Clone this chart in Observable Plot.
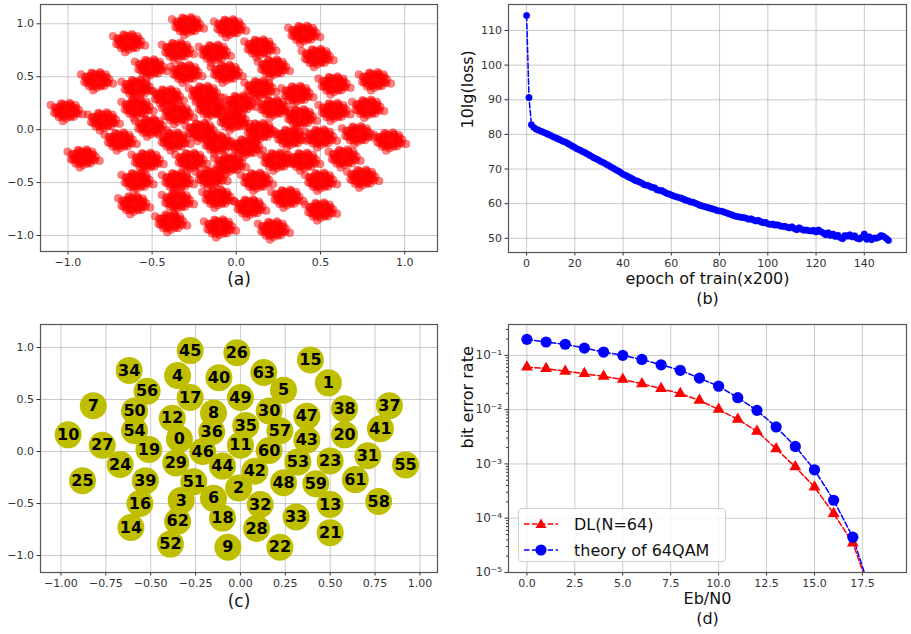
<!DOCTYPE html>
<html><head><meta charset="utf-8">
<script src="https://cdn.jsdelivr.net/npm/d3@7"></script>
<script src="https://cdn.jsdelivr.net/npm/@observablehq/plot@0.6"></script>
<style>
body{margin:0;background:#fff;}
#fig{position:relative;width:911px;height:634px;overflow:hidden;font-family:"DejaVu Sans",sans-serif;background:#fff;}
#fig > svg{position:absolute;}
#fig .legend{position:absolute;left:518px;top:508px;width:208px;height:54px;border:1px solid #d0d0d0;border-radius:4px;background:rgba(255,255,255,0.8);box-sizing:border-box;}
#fig .legend .row{position:absolute;left:5px;height:20px;display:flex;align-items:center;}
#fig .legend .row svg{position:static;display:block;flex:none;}
#fig .legend .row span{margin-left:14px;font-size:16px;color:#111;white-space:nowrap;}
</style></head><body><div id="fig"></div>
<script>
// ---------- Panel (a): received-signal cluster centres ----------
const clusterX = [-0.29,-0.04,0.40,-0.64,-0.35,-0.13,0.14,0.48,-0.51,-0.30,-0.06,0.22,-0.83,-0.59,-0.41,-0.19,0.14,0.36,0.58,0.82,-1.01,-0.79,-0.59,-0.35,-0.15,0.02,0.22,0.38,0.58,0.78,-0.51,-0.21,-0.02,0.14,0.32,0.50,0.72,0.91,-0.69,-0.37,-0.11,0.06,-0.91,-0.53,-0.27,-0.04,0.24,0.40,0.64,-0.59,-0.35,-0.15,0.12,0.50,0.75,-0.61,-0.35,-0.11,0.08,0.30,0.50,-0.39,-0.10,0.22];
const clusterY = [0.99,0.97,0.91,0.83,0.75,0.73,0.78,0.69,0.59,0.54,0.54,0.59,0.47,0.40,0.31,0.34,0.39,0.34,0.43,0.47,0.18,0.09,0.21,0.15,0.21,0.25,0.21,0.12,0.18,0.21,0.03,-0.01,0.09,-0.01,-0.07,-0.07,-0.04,-0.10,-0.10,-0.10,-0.13,-0.16,-0.26,-0.29,-0.29,-0.32,-0.29,-0.29,-0.26,-0.48,-0.48,-0.45,-0.48,-0.48,-0.45,-0.70,-0.67,-0.64,-0.73,-0.64,-0.76,-0.87,-0.92,-0.94];
// spread of received samples around each centre (read from blob extent)
const blobDX = [0,0.03,0.015,-0.015,-0.03,-0.015,0.015,0.052,0.028,-0.010,-0.042,-0.055,-0.042,-0.010,0.028,0.052,0.075,0.055,0.02,-0.03,-0.068,-0.072,-0.045,0.0,0.045,0.07,0.098,-0.092,-0.02,0.045,0.032,0,-0.032,-0.045,-0.032,0,0.032,0.060,0.025,-0.025,-0.060,-0.060,-0.025,0.025,0.060];
const blobDY = [0,0,0.026,0.026,0,-0.026,-0.026,0.019,0.048,0.054,0.035,0,-0.035,-0.054,-0.048,-0.019,0.005,0.05,0.072,0.068,0.03,-0.02,-0.06,-0.075,-0.058,-0.03,-0.035,0.052,-0.098,0,0.032,0.045,0.032,0,-0.032,-0.045,-0.032,0.025,0.060,0.060,0.025,-0.025,-0.060,-0.060,-0.025];

// ---------- Panel (b): training loss ----------
const lossDB = [114.3,90.6,82.8,82.0,81.5,81.2,80.9,80.6,80.3,80.0,79.7,79.3,79.0,78.7,78.4,78.0,77.8,77.4,77.0,76.6,76.2,75.8,75.5,75.1,74.8,74.4,74.0,73.6,73.2,72.9,72.5,72.1,71.8,71.4,71.0,70.6,70.2,69.8,69.4,69.0,68.5,68.2,67.8,67.5,67.1,66.7,66.5,66.2,65.8,65.4,65.3,65.0,64.7,64.6,64.0,63.8,63.8,63.4,63.0,62.8,62.5,62.2,62.0,61.8,61.6,61.3,61.0,60.8,60.5,60.4,60.1,59.8,59.5,59.3,59.1,58.9,58.7,58.5,58.3,58.0,57.9,57.8,57.5,57.3,57.0,56.8,56.5,56.3,56.2,56.0,56.0,55.8,55.5,55.6,55.3,55.0,55.2,54.8,54.5,54.6,54.2,54.0,54.1,53.8,53.9,53.6,53.4,53.5,53.2,53.0,53.3,52.8,52.5,53.0,52.6,52.3,52.4,52.2,52.1,52.3,51.8,52.4,51.9,51.5,51.0,51.6,50.8,51.2,50.5,50.9,50.2,49.9,50.8,50.6,51.0,50.4,50.7,50.0,49.8,50.3,51.2,49.7,50.4,49.6,50.1,50.0,50.3,50.8,50.5,50.0,49.4];

// ---------- Panel (c): learned constellation (label, x, y) ----------
const symbolLabel = [0,1,2,3,4,5,6,7,8,9,10,11,12,13,14,15,16,17,18,19,20,21,22,23,24,25,26,27,28,29,30,31,32,33,34,35,36,37,38,39,40,41,42,43,44,45,46,47,48,49,50,51,52,53,54,55,56,57,58,59,60,61,62,63];
const symbolX = [-0.34,0.49,-0.01,-0.33,-0.35,0.24,-0.15,-0.82,-0.15,-0.07,-0.96,0.00,-0.38,0.50,-0.61,0.39,-0.56,-0.28,-0.10,-0.51,0.58,0.50,0.22,0.50,-0.67,-0.88,-0.02,-0.77,0.09,-0.36,0.16,0.71,0.11,0.31,-0.62,0.03,-0.16,0.83,0.58,-0.53,-0.12,0.78,0.08,0.37,-0.10,-0.28,-0.21,0.37,0.24,0.00,-0.59,-0.26,-0.39,0.32,-0.59,0.92,-0.52,0.22,0.77,0.42,0.16,0.64,-0.35,0.13];
const symbolY = [0.12,0.66,-0.35,-0.47,0.73,0.59,-0.45,0.44,0.37,-0.92,0.16,0.06,0.32,-0.51,-0.73,0.88,-0.50,0.52,-0.64,0.02,0.16,-0.78,-0.92,-0.09,-0.125,-0.28,0.95,0.06,-0.74,-0.11,0.39,-0.04,-0.51,-0.63,0.78,0.25,0.19,0.44,0.41,-0.28,0.71,0.22,-0.19,0.11,-0.14,0.97,0.00,0.34,-0.30,0.52,0.39,-0.29,-0.89,-0.10,0.20,-0.13,0.58,0.20,-0.48,-0.31,0.01,-0.27,-0.67,0.76];

// ---------- Panel (d): BER curves ----------
const ebn0 = [0,1,2,3,4,5,6,7,8,9,10,11,12,13,14,15,16,17,18];
const berDL = [0.061,0.057,0.051,0.046,0.041,0.036,0.030,0.0244,0.0197,0.0148,0.0101,0.0066,0.0040,0.0019,0.00088,0.000376,0.000122,0.000035,0.0000035];
const berTheory = [0.197,0.176,0.160,0.136,0.115,0.100,0.084,0.067,0.053,0.038,0.027,0.0166,0.0097,0.0048,0.0021,0.00078,0.000214,0.0000447,0.0000037];
const seriesNames = ["DL(N=64)", "theory of 64QAM"];

// ---------- tick labels ----------
const ticksAx = [-1.0,-0.5,0.0,0.5,1.0];
const ticksAy = [-1.0,-0.5,0.0,0.5,1.0];
const ticksBx = [0,20,40,60,80,100,120,140];
const ticksBy = [50,60,70,80,90,100,110];
const ticksCx = [-1.0,-0.75,-0.5,-0.25,0.0,0.25,0.5,0.75,1.0];
const ticksCy = [-1.0,-0.5,0.0,0.5,1.0];
const ticksDx = [0,2.5,5,7.5,10,12.5,15,17.5];
const ticksDy = [1e-5,1e-4,1e-3,1e-2,1e-1];
const ticksDyLabels = ["10⁻⁵","10⁻⁴","10⁻³","10⁻²","10⁻¹"];

const fig = document.getElementById("fig");
const FONT = "DejaVu Sans";
const GRID = {stroke:"#b0b0b0", strokeOpacity:0.75, strokeWidth:0.9};
const AX = {tickSize:3.5, tickPadding:3, label:null, fontSize:11};
const sgn = (d, n) => (d < 0 ? "\u2212" : "") + Math.abs(d).toFixed(n);
const frame = () => Plot.frame({stroke:"#555", strokeWidth:1.2});
const title = (t, anchor, dx, dy, size, rot) => Plot.text([t], {text:d=>d, frameAnchor:anchor, dx, dy, fontSize:size, rotate:rot||0, fill:"#111"});

function place(svg, left, top){ svg.style.left = left+"px"; svg.style.top = top+"px"; fig.appendChild(svg); }
const baseStyle = {fontFamily:FONT, fontSize:"11px", color:"#333", background:"transparent", overflow:"visible"};

// Panel (a)
const pointsA = clusterX.flatMap((cx,i)=> blobDX.map((dx,j)=>({x:cx+dx, y:clusterY[i]+blobDY[j]})));
place(Plot.plot({
  width:455, height:310, marginLeft:40, marginRight:18, marginTop:4, marginBottom:59,
  style:baseStyle,
  x:{domain:[-1.163,1.195]}, y:{domain:[-1.151,1.182]},
  marks:[
    Plot.gridX({ticks:ticksAx, ...GRID}), Plot.gridY({ticks:ticksAy, ...GRID}),
    Plot.dot(pointsA, {x:"x", y:"y", r:4, fill:"red", fillOpacity:0.5, stroke:"red", strokeOpacity:0.35, strokeWidth:0.6}),
    Plot.axisX({ticks:ticksAx, tickFormat:d=>sgn(d,1), ...AX}),
    Plot.axisY({ticks:ticksAy, tickFormat:d=>sgn(d,1), ...AX}),
    title("(a)","bottom",0,33,17),
    frame()
  ]
}), 0, 0);

// Panel (b)
place(Plot.plot({
  width:456, height:318, marginLeft:53, marginRight:5, marginTop:4, marginBottom:66,
  style:baseStyle,
  x:{domain:[-7.5,157.5]}, y:{domain:[45.9,117.5]},
  marks:[
    Plot.gridX({ticks:ticksBx, ...GRID}), Plot.gridY({ticks:ticksBy, ...GRID}),
    Plot.line(lossDB, {x:(d,i)=>i, y:d=>d, stroke:"blue", strokeWidth:1.5, strokeDasharray:"5.5,2.4"}),
    Plot.dot(lossDB, {x:(d,i)=>i, y:d=>d, r:3.3, fill:"blue", stroke:"blue", strokeOpacity:0.4, strokeWidth:0.6}),
    Plot.axisX({ticks:ticksBx, tickFormat:d=>String(d), ...AX}),
    Plot.axisY({ticks:ticksBy, tickFormat:d=>String(d), ...AX}),
    title("epoch of train(x200)","bottom",0,31,16),
    title("(b)","bottom",0,51,16),
    title("10lg(loss)","left",-41,0,16,-90),
    frame()
  ]
}), 455, 0);

// Panel (c)
place(Plot.plot({
  width:455, height:316, marginLeft:40, marginRight:18, marginTop:6, marginBottom:62,
  style:baseStyle,
  x:{domain:[-1.114,1.098]}, y:{domain:[-1.163,1.221]},
  marks:[
    Plot.gridX({ticks:ticksCx, ...GRID}), Plot.gridY({ticks:ticksCy, ...GRID}),
    Plot.dot(symbolLabel, {x:(d,i)=>symbolX[i], y:(d,i)=>symbolY[i], r:13.5, fill:"#bfbf00"}),
    Plot.text(symbolLabel, {x:(d,i)=>symbolX[i], y:(d,i)=>symbolY[i], text:d=>String(d), fontSize:16, fontWeight:"bold", fill:"#000"}),
    Plot.axisX({ticks:ticksCx, tickFormat:d=>sgn(d,2), ...AX}),
    Plot.axisY({ticks:ticksCy, tickFormat:d=>sgn(d,1), ...AX}),
    title("(c)","bottom",0,34,17),
    frame()
  ]
}), 0, 318);

// Panel (d)
const minorD = [1e-5,1e-4,1e-3,1e-2,1e-1].flatMap(p=>[2,3,4,5,6,7,8,9].map(m=>m*p)).filter(v=>v<0.37);
const dlRows = ebn0.map((x,i)=>({x, y:berDL[i]}));
const thRows = ebn0.map((x,i)=>({x, y:berTheory[i]}));
place(Plot.plot({
  width:456, height:316, marginLeft:53, marginRight:5, marginTop:6, marginBottom:62,
  style:baseStyle,
  x:{domain:[-0.96,19.8]}, y:{type:"log", domain:[1e-5,0.37]},
  marks:[
    Plot.gridX({ticks:ticksDx, ...GRID}), Plot.gridY({ticks:ticksDy, ...GRID}),
    Plot.line(dlRows, {x:"x", y:"y", stroke:"red", strokeWidth:1.5, strokeDasharray:"5.5,2.4", clip:true}),
    Plot.line(thRows, {x:"x", y:"y", stroke:"blue", strokeWidth:1.5, strokeDasharray:"5.5,2.4", clip:true}),
    Plot.dot(dlRows, {x:"x", y:"y", r:4.4, symbol:"triangle", fill:"red", clip:true}),
    Plot.dot(thRows, {x:"x", y:"y", r:5.6, fill:"blue", clip:true}),
    Plot.axisX({ticks:ticksDx, tickFormat:d=>d.toFixed(1), ...AX}),
    Plot.axisY({ticks:ticksDy, tickFormat:d=>ticksDyLabels[ticksDy.indexOf(d)], ...AX, fontSize:12}),
    Plot.axisY({ticks:minorD, tickFormat:()=>"", tickSize:2, label:null}),
    title("Eb/N0","bottom",0,31,16),
    title("(d)","bottom",0,51,16),
    title("bit error rate","left",-41,0,16,-90),
    frame()
  ]
}), 455, 318);

// legend for panel (d)
const leg = document.createElement("div");
leg.className = "legend";
const legendSpecs = [{name:seriesNames[0], color:"red", sym:"tri"}, {name:seriesNames[1], color:"blue", sym:"circ"}];
legendSpecs.forEach((s,k)=>{
  const row = document.createElement("div");
  row.className = "row";
  row.style.top = (5 + k*26) + "px";
  const mk = s.sym === "tri"
    ? `<path d="M17,1.5 L22.5,11 L11.5,11 Z" fill="${s.color}"/>`
    : `<circle cx="17" cy="7" r="5.6" fill="${s.color}"/>`;
  row.innerHTML = `<svg width="36" height="14" viewBox="0 0 36 14"><line x1="0" y1="7" x2="34" y2="7" stroke="${s.color}" stroke-width="1.5" stroke-dasharray="5.5,2.4"/>${mk}</svg><span>${s.name}</span>`;
  leg.appendChild(row);
});
fig.appendChild(leg);
</script></body></html>
